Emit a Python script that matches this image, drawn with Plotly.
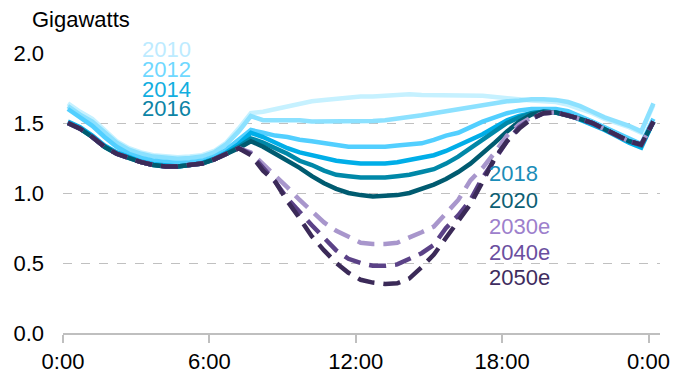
import plotly.graph_objects as go

hours = [0.2, 0.7, 1.2, 1.7, 2.2, 2.7, 3.2, 3.7, 4.2, 4.7, 5.2, 5.7, 6.2, 6.7, 7.2, 7.7,
         8.2, 8.7, 9.2, 9.7, 10.2, 10.7, 11.2, 11.7, 12.2, 12.7, 13.2, 13.7, 14.2, 14.7,
         15.2, 15.7, 16.2, 16.7, 17.2, 17.7, 18.2, 18.7, 19.2, 19.7, 20.2, 20.7, 21.2,
         21.7, 22.2, 22.7, 23.2, 23.7, 24.2]

y2010 = [1.64, 1.58, 1.53, 1.45, 1.37, 1.32, 1.29, 1.27, 1.26, 1.255, 1.26, 1.27, 1.30, 1.36, 1.46, 1.57,
         1.58, 1.60, 1.62, 1.64, 1.655, 1.665, 1.675, 1.685, 1.69, 1.69, 1.695, 1.70, 1.705, 1.70, 1.70,
         1.70, 1.70, 1.70, 1.695, 1.685, 1.675, 1.665,
         1.66, 1.655, 1.65, 1.63, 1.60, 1.57, 1.53, 1.50, 1.47, 1.43, 1.63]
y2012 = [1.62, 1.56, 1.51, 1.43, 1.36, 1.31, 1.28, 1.26, 1.25, 1.245, 1.25, 1.26, 1.29, 1.35, 1.44, 1.55,
         1.52, 1.52, 1.525, 1.52, 1.51, 1.51, 1.51, 1.51, 1.51, 1.515, 1.52, 1.53, 1.54, 1.555, 1.57,
         1.585, 1.60, 1.615, 1.63, 1.645, 1.655, 1.66,
         1.67, 1.67, 1.665, 1.65, 1.62, 1.58, 1.54, 1.51, 1.48, 1.44, 1.64]
y2014 = [1.60, 1.54, 1.48, 1.40, 1.33, 1.28, 1.25, 1.23, 1.22, 1.215, 1.22, 1.23, 1.26, 1.31, 1.38, 1.45,
         1.43, 1.41, 1.40, 1.38, 1.37, 1.355, 1.34, 1.33, 1.33, 1.33, 1.33, 1.34, 1.345, 1.355, 1.38,
         1.41, 1.43, 1.47, 1.51, 1.54, 1.57, 1.59,
         1.60, 1.60, 1.60, 1.585, 1.55, 1.51, 1.47, 1.43, 1.39, 1.35, 1.53]
y2016 = [1.51, 1.47, 1.41, 1.34, 1.29, 1.255, 1.225, 1.205, 1.195, 1.19, 1.20, 1.215, 1.245, 1.29, 1.35, 1.43,
         1.40, 1.36, 1.32, 1.29, 1.27, 1.25, 1.23, 1.22, 1.21, 1.21, 1.21, 1.22, 1.235, 1.25, 1.27,
         1.30, 1.34, 1.38, 1.42, 1.47, 1.52, 1.55,
         1.57, 1.58, 1.575, 1.56, 1.525, 1.49, 1.45, 1.405, 1.36, 1.325, 1.51]
y2018 = [1.50, 1.46, 1.40, 1.33, 1.28, 1.25, 1.22, 1.20, 1.19, 1.19, 1.20, 1.21, 1.24, 1.28, 1.33, 1.39,
         1.36, 1.32, 1.28, 1.23, 1.20, 1.16, 1.13, 1.12, 1.11, 1.11, 1.11, 1.12, 1.13, 1.15, 1.17,
         1.21, 1.26, 1.32, 1.38, 1.44, 1.50, 1.54,
         1.57, 1.58, 1.575, 1.555, 1.53, 1.50, 1.455, 1.41, 1.37, 1.34, 1.51]
y2020 = [1.50, 1.46, 1.40, 1.33, 1.28, 1.25, 1.22, 1.20, 1.19, 1.19, 1.20, 1.21, 1.24, 1.28, 1.32, 1.37,
         1.33, 1.28, 1.23, 1.18, 1.12, 1.07, 1.03, 1.00, 0.985, 0.975, 0.98, 0.985, 1.00, 1.03, 1.06,
         1.10, 1.15, 1.21, 1.28, 1.36, 1.44, 1.51,
         1.56, 1.58, 1.575, 1.555, 1.53, 1.50, 1.455, 1.41, 1.37, 1.345, 1.51]
y2030 = [1.50, 1.46, 1.40, 1.33, 1.28, 1.25, 1.22, 1.20, 1.19, 1.19, 1.20, 1.21, 1.24, 1.28, 1.32, 1.29,
         1.21, 1.12, 1.04, 0.95, 0.87, 0.79, 0.73, 0.685, 0.645, 0.635, 0.635, 0.645, 0.68, 0.72, 0.76,
         0.86, 0.95, 1.09, 1.18, 1.29, 1.41, 1.49,
         1.54, 1.57, 1.575, 1.555, 1.53, 1.50, 1.455, 1.41, 1.37, 1.345, 1.51]
y2040 = [1.50, 1.46, 1.40, 1.33, 1.28, 1.25, 1.22, 1.20, 1.19, 1.19, 1.20, 1.21, 1.24, 1.28, 1.32, 1.28,
         1.18, 1.08, 0.96, 0.86, 0.77, 0.68, 0.59, 0.53, 0.50, 0.48, 0.48, 0.49, 0.53, 0.57, 0.63,
         0.75, 0.84, 0.95, 1.11, 1.24, 1.37, 1.47,
         1.53, 1.57, 1.575, 1.555, 1.53, 1.50, 1.455, 1.41, 1.37, 1.345, 1.51]
y2050 = [1.50, 1.46, 1.40, 1.33, 1.28, 1.25, 1.22, 1.20, 1.19, 1.19, 1.20, 1.21, 1.24, 1.28, 1.32, 1.27,
         1.16, 1.08, 0.94, 0.82, 0.69, 0.59, 0.50, 0.43, 0.38, 0.36, 0.35, 0.355, 0.39, 0.47, 0.56,
         0.68, 0.80, 0.92, 1.08, 1.25, 1.37, 1.46,
         1.53, 1.57, 1.575, 1.555, 1.53, 1.50, 1.455, 1.41, 1.37, 1.345, 1.51]

series_names = ["2010", "2012", "2014", "2016", "2018", "2020", "2030e", "2040e", "2050e"]
series_values = [y2010, y2012, y2014, y2016, y2018, y2020, y2030, y2040, y2050]
line_colors = ["#C6F1FF", "#8CE1FF", "#52CFFF", "#00AEE8", "#0088A8", "#005B70",
               "#A896CC", "#5B4287", "#3B2A58"]
label_colors = ["#BDEBFF", "#6FD8FF", "#12AEE0", "#0C84A6", "#1B8DB8", "#0D5F74",
                "#9D80CC", "#6B4FA0", "#3F2D60"]
dashed = [False, False, False, False, False, False, True, True, True]

tick_vals = [0, 6, 12, 18, 24]
tick_text = ["0:00", "6:00", "12:00", "18:00", "0:00"]
y_ticks = [0.0, 0.5, 1.0, 1.5, 2.0]

FONT = "Liberation Sans, Arial, sans-serif"

fig = go.Figure()
for name, vals, col, d in zip(series_names, series_values, line_colors, dashed):
    fig.add_trace(go.Scatter(
        x=hours, y=vals, mode="lines", name=name,
        line=dict(color=col, width=4.5, dash="17px,9px" if d else "solid"),
        showlegend=False, hoverinfo="skip"))

# label positions in paper coordinates
label_pos = [(0.174, 1.011, "center"), (0.174, 0.940, "center"), (0.174, 0.870, "center"),
             (0.174, 0.800, "center"), (0.710, 0.571, "left"), (0.710, 0.475, "left"),
             (0.710, 0.382, "left"), (0.710, 0.289, "left"), (0.710, 0.200, "left")]
for name, col, (lx, ly, anc) in zip(series_names, label_colors, label_pos):
    fig.add_annotation(x=lx, y=ly, xref="paper", yref="paper", text=name, showarrow=False,
                       xanchor=anc, yanchor="middle",
                       font=dict(family=FONT, size=22, color=col))

fig.add_annotation(x=-0.055, y=1.118, xref="paper", yref="paper", text="Gigawatts",
                   showarrow=False, xanchor="left", yanchor="middle",
                   font=dict(family=FONT, size=22, color="#000000"))

# the page body adds an 8px offset, so the figure is 8px smaller on each axis
fig.update_layout(
    width=670, height=366,
    margin=dict(l=55, r=18, t=45, b=41),
    paper_bgcolor="white", plot_bgcolor="white",
    font=dict(family=FONT, size=22, color="#000000"),
)
fig.update_xaxes(
    range=[0, 24.47], tickvals=tick_vals, ticktext=tick_text, automargin=False,
    showgrid=False, zeroline=False, showline=True, linecolor="#BFBFBF", linewidth=1.5,
    ticks="outside", ticklen=8, tickcolor="#BFBFBF", tickwidth=1.5,
    tickfont=dict(family=FONT, size=22, color="#000000"),
)
fig.update_yaxes(
    range=[0, 2.0], tickvals=y_ticks, tickformat=".1f", automargin=False,
    showgrid=True, gridcolor="#C0C0C0", gridwidth=1, griddash="dash",
    zeroline=False, showline=False, ticks="", ticklabelstandoff=18,
    tickfont=dict(family=FONT, size=22, color="#000000"),
)

fig.write_html("out.html")
